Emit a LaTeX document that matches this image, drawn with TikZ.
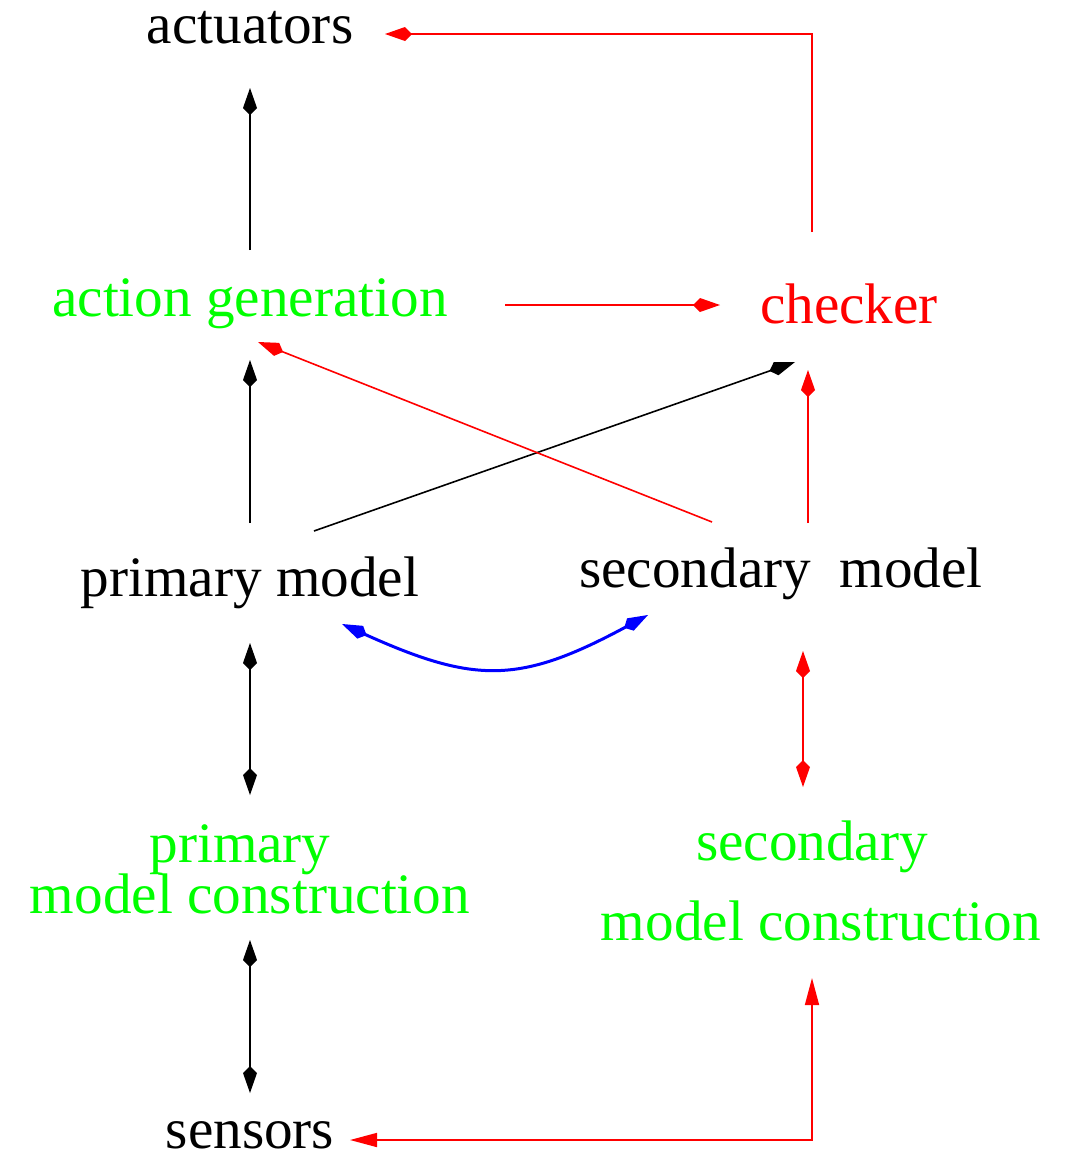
\documentclass[tikz,border=0pt]{standalone}
\usepackage{fontspec}
\setmainfont{Liberation Serif}
\usetikzlibrary{arrows.meta,calc}
\definecolor{xgreen}{RGB}{0,255,0}
\definecolor{xred}{RGB}{255,0,0}
\definecolor{xblue}{RGB}{0,0,255}
\begin{document}
\begin{tikzpicture}[x=0.5pt,y=-0.5pt,
  lbl/.style={anchor=base,inner sep=0pt,outer sep=0pt,font=\fontsize{28.6}{34}\selectfont},
  conn/.style={line width=0.8pt},
  kite/.style={Kite[length=13.5pt,width=7pt,inset=3.5pt]},
  tri/.style={Triangle[length=13.5pt,width=7pt]}]
\useasboundingbox (0,0) rectangle (1077,1152);
\node[lbl] (act) at (250,43) {actuators};
\node[lbl,text=xgreen] (agen) at (250,316) {action generation};
\node[lbl,text=xred] (chk) at (849,323) {checker};
\node[lbl] (pm) at (250,596) {primary model};
\node[lbl] (sm) at (781,587) {secondary\ \ model};
\node[lbl,text=xgreen] (pmcA) at (240,862) {primary};
\node[lbl,text=xgreen] (pmcB) at (250,913) {model construction};
\node[lbl,text=xgreen] (smcA) at (812,860) {secondary};
\node[lbl,text=xgreen] (smcB) at (821,940) {model construction};
\node[lbl] (sen) at (250,1148) {sensors};
% black
\draw[conn,-{Kite[length=13.5pt,width=7pt,inset=3.5pt]}] ($(agen.base)+(0,-66)$) -- ($(act.base)+(0,45)$);
\draw[conn,-{Kite[length=13.5pt,width=7pt,inset=3.5pt]}] ($(pm.base)+(0,-73)$) -- ($(agen.base)+(0,44)$);
\draw[conn,-{Kite[length=13.5pt,width=7pt,inset=3.5pt]}] ($(pm.base)+(64,-65)$) -- ($(chk.base)+(-54,39)$);
\draw[conn,{Kite[length=13.5pt,width=7pt,inset=3.5pt]}-{Kite[length=13.5pt,width=7pt,inset=3.5pt]}] ($(pm.base)+(0,47)$) -- ($(pmcA.base)+(10,-67)$);
\draw[conn,{Kite[length=13.5pt,width=7pt,inset=3.5pt]}-{Kite[length=13.5pt,width=7pt,inset=3.5pt]}] ($(pmcB.base)+(0,27)$) -- ($(sen.base)+(0,-55)$);
% red
\draw[conn,xred,-{Kite[length=13.5pt,width=7pt,inset=3.5pt]}] ($(chk.base)+(-37,-91)$) |- ($(act.base)+(135,-9)$);
\draw[conn,xred,-{Kite[length=13.5pt,width=7pt,inset=3.5pt]}] ($(agen.base)+(255,-11)$) -- ($(chk.base)+(-129,-18)$);
\draw[conn,xred,-{Kite[length=13.5pt,width=7pt,inset=3.5pt]}] ($(sm.base)+(-69,-65)$) -- ($(agen.base)+(8,26)$);
\draw[conn,xred,-{Kite[length=13.5pt,width=7pt,inset=3.5pt]}] ($(sm.base)+(27,-64)$) -- ($(chk.base)+(-41,47)$);
\draw[conn,xred,{Kite[length=13.5pt,width=7pt,inset=3.5pt]}-{Kite[length=13.5pt,width=7pt,inset=3.5pt]}] ($(sm.base)+(22,64)$) -- ($(smcA.base)+(-9,-73)$);
\draw[conn,xred,{Triangle[length=13.5pt,width=7pt]}-{Triangle[length=13.5pt,width=7pt]}] ($(sen.base)+(100,-8)$) -| ($(smcB.base)+(-9,38)$);
% blue
\draw[line width=1.5pt,xblue,{Kite[length=13.5pt,width=7pt,inset=3.5pt]}-{Kite[length=13.5pt,width=7pt,inset=3.5pt]}] ($(pm.base)+(92,28)$) .. controls (475,684) and (520,684) .. ($(sm.base)+(-133,28)$);
\end{tikzpicture}
\end{document}
